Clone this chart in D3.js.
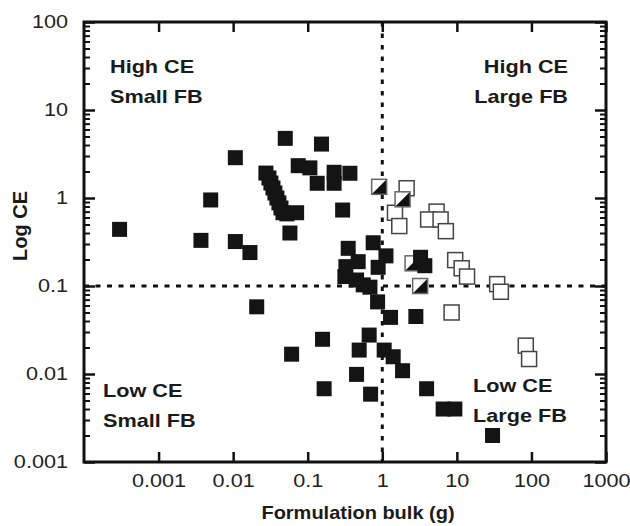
<!DOCTYPE html>
<html>
<head>
<meta charset="utf-8">
<script src="https://cdn.jsdelivr.net/npm/d3@7"></script>
<style>
body { margin: 0; background: #fff; }
text { font-family: "Liberation Sans", Arial, sans-serif; }
</style>
</head>
<body>
<div id="chart"></div>
<script>
// formulation bulk (g) / CE
var filledX = [0.0003, 0.0107, 0.005, 0.0037, 0.0107, 0.0168, 0.05, 0.153, 0.0746, 0.107, 0.134, 0.226, 0.368, 0.226,
    0.294, 0.071, 0.0577, 0.0275, 0.0302, 0.0321, 0.0342, 0.0363, 0.0386, 0.0411, 0.0438, 0.0466, 0.0526,
    0.349, 0.755, 1.12, 0.325, 0.475, 0.88, 0.315, 0.452, 0.555, 0.683, 0.865, 1.29, 2.82, 3.26, 3.72,
    0.0207, 0.158, 0.0608, 0.667, 0.49, 1.06, 1.40, 1.87, 0.452, 0.166, 0.697, 3.93, 6.55, 9.4, 30.1];
var filledY = [0.44, 2.87, 0.95, 0.33, 0.32, 0.24, 4.76, 4.1, 2.33, 2.2, 1.47, 1.96, 1.91, 1.47,
    0.73, 0.68, 0.40, 1.92, 1.69, 1.48, 1.30, 1.14, 1.0, 0.88, 0.77, 0.68, 0.66,
    0.268, 0.31, 0.22, 0.166, 0.189, 0.163, 0.128, 0.117, 0.103, 0.097, 0.066, 0.044, 0.045, 0.212, 0.170,
    0.058, 0.0248, 0.0168, 0.0277, 0.0187, 0.0187, 0.0157, 0.0109, 0.0099, 0.0068, 0.0059, 0.0068, 0.004, 0.004, 0.002];

var openX = [2.12, 1.48, 1.69, 5.35, 4.12, 6.05, 7.12, 9.5, 11.6, 13.7, 34.7, 38.9, 8.5, 84, 93];
var openY = [1.29, 0.68, 0.48, 0.70, 0.57, 0.57, 0.42, 0.197, 0.159, 0.128, 0.105, 0.086, 0.050, 0.021, 0.0148];

var halfX = [0.908, 1.87, 2.55, 3.22];
var halfY = [1.34, 0.966, 0.181, 0.10];

var xTicks = [0.001, 0.01, 0.1, 1, 10, 100, 1000];
var xTickLabels = ["0.001", "0.01", "0.1", "1", "10", "100", "1000"];
var yTicks = [0.001, 0.01, 0.1, 1, 10, 100];
var yTickLabels = ["0.001", "0.01", "0.1", "1", "10", "100"];
var xCut = 1, yCut = 0.1;

var W = 630, H = 526;
var pL = 84, pR = 606, pT = 22, pB = 462;
var wide = 1.17; // the original lettering is a bit wider than Liberation Sans

var svg = d3.select("#chart").append("svg")
    .attr("width", W)
    .attr("height", H);

var x = d3.scaleLog().domain([1e-4, 1e3]).range([pL, pR]);
var y = d3.scaleLog().domain([1e-3, 100]).range([pB, pT]);

// minor y ticks (2..9 in each decade)
var yMinor = [];
yTicks.slice(0, -1).forEach(function(d) {
    for (var k = 2; k < 10; k++) yMinor.push(d * k);
});

function fmt(ticks, labels) {
    return function(d) { return labels[ticks.indexOf(d)]; };
}

function stretch(sel, k) {
    sel.each(function() {
        var w = this.getComputedTextLength();
        d3.select(this).attr("textLength", w * k).attr("lengthAdjust", "spacingAndGlyphs");
    });
}

var axB = svg.append("g").attr("transform", "translate(0," + pB + ")")
    .call(d3.axisBottom(x).tickValues(xTicks).tickFormat(fmt(xTicks, xTickLabels))
        .tickSizeInner(-10).tickSizeOuter(0).tickPadding(12));
var axT = svg.append("g").attr("transform", "translate(0," + pT + ")")
    .call(d3.axisTop(x).tickValues(xTicks).tickFormat("").tickSizeInner(-10).tickSizeOuter(0));
var axL = svg.append("g").attr("transform", "translate(" + pL + ",0)")
    .call(d3.axisLeft(y).tickValues(yTicks).tickFormat(fmt(yTicks, yTickLabels))
        .tickSizeInner(-11).tickSizeOuter(0).tickPadding(16));
var axR = svg.append("g").attr("transform", "translate(" + pR + ",0)")
    .call(d3.axisRight(y).tickValues(yTicks).tickFormat("").tickSizeInner(-11).tickSizeOuter(0));
var axLm = svg.append("g").attr("transform", "translate(" + pL + ",0)")
    .call(d3.axisLeft(y).tickValues(yMinor).tickFormat("").tickSizeInner(-6).tickSizeOuter(0));
var axRm = svg.append("g").attr("transform", "translate(" + pR + ",0)")
    .call(d3.axisRight(y).tickValues(yMinor).tickFormat("").tickSizeInner(-6).tickSizeOuter(0));

[axB, axT, axL, axR, axLm, axRm].forEach(function(a) {
    a.select(".domain").remove();
    a.selectAll(".tick line").attr("stroke", "#111").attr("stroke-width", 2.5);
    a.selectAll(".tick text").attr("fill", "#222").style("font-size", "18.5px")
        .style("font-family", "'Liberation Sans', Arial, sans-serif");
});
axLm.selectAll(".tick line").attr("stroke-width", 2);
axRm.selectAll(".tick line").attr("stroke-width", 2);
stretch(axB.selectAll(".tick text"), wide);
stretch(axL.selectAll(".tick text"), wide);

// dotted cut lines
svg.append("line")
    .attr("x1", x(xCut)).attr("x2", x(xCut))
    .attr("y1", pT).attr("y2", pB)
    .attr("stroke", "#111").attr("stroke-width", 3).attr("stroke-dasharray", "4.5,7");
svg.append("line")
    .attr("x1", pL).attr("x2", pR)
    .attr("y1", y(yCut)).attr("y2", y(yCut))
    .attr("stroke", "#111").attr("stroke-width", 3).attr("stroke-dasharray", "5,6.5");

var s = 15;

// open squares
svg.selectAll(".open")
    .data(openX)
    .enter().append("rect")
    .attr("class", "open")
    .attr("x", function(d) { return x(d) - s / 2; })
    .attr("y", function(d, i) { return y(openY[i]) - s / 2; })
    .attr("width", s).attr("height", s)
    .attr("fill", "#fff")
    .attr("stroke", "#444")
    .attr("stroke-width", 1.5);

// half filled squares
var half = svg.selectAll(".half")
    .data(halfX)
    .enter().append("g")
    .attr("class", "half")
    .attr("transform", function(d, i) { return "translate(" + x(d) + "," + y(halfY[i]) + ")"; });
half.append("rect")
    .attr("x", -s / 2).attr("y", -s / 2)
    .attr("width", s).attr("height", s)
    .attr("fill", "#fff");
half.append("path")
    .attr("d", "M" + (s / 2) + "," + (-s / 2) + "L" + (s / 2) + "," + (s / 2) + "L" + (-s / 2) + "," + (s / 2) + "Z")
    .attr("fill", "#111");
half.append("rect")
    .attr("x", -s / 2).attr("y", -s / 2)
    .attr("width", s).attr("height", s)
    .attr("fill", "none")
    .attr("stroke", "#666")
    .attr("stroke-width", 1.5);

// filled squares
svg.selectAll(".filled")
    .data(filledX)
    .enter().append("rect")
    .attr("class", "filled")
    .attr("x", function(d) { return x(d) - s / 2; })
    .attr("y", function(d, i) { return y(filledY[i]) - s / 2; })
    .attr("width", s).attr("height", s)
    .attr("fill", "#141414");

// frame
svg.append("rect")
    .attr("x", pL).attr("y", pT)
    .attr("width", pR - pL).attr("height", pB - pT)
    .attr("fill", "none")
    .attr("stroke", "#111")
    .attr("stroke-width", 3);

// quadrant labels
var quad = [
    {t: ["High CE", "Small FB"], x: 110, y: 73, a: "start"},
    {t: ["High CE", "Large FB"], x: 568, y: 73, a: "end"},
    {t: ["Low CE", "Small FB"], x: 103, y: 397, a: "start"},
    {t: ["Low CE", "Large FB"], x: 473, y: 392, a: "start"}
];
quad.forEach(function(q) {
    q.t.forEach(function(line, i) {
        var t = svg.append("text")
            .attr("x", q.x).attr("y", q.y + i * 30)
            .attr("text-anchor", q.a)
            .attr("fill", "#1a1a1a")
            .style("font-size", "18.5px")
            .style("font-weight", "bold")
            .text(line);
        stretch(t, wide);
    });
});

// axis titles
var xt = svg.append("text")
    .attr("x", 358).attr("y", 519)
    .attr("text-anchor", "middle")
    .attr("fill", "#1a1a1a")
    .style("font-size", "18.5px").style("font-weight", "bold")
    .text("Formulation bulk (g)");
stretch(xt, 1.08);
svg.append("text")
    .attr("transform", "translate(27,226) rotate(-90)")
    .attr("text-anchor", "middle")
    .attr("fill", "#1a1a1a")
    .style("font-size", "20px").style("font-weight", "bold")
    .text("Log CE");
</script>
</body>
</html>
